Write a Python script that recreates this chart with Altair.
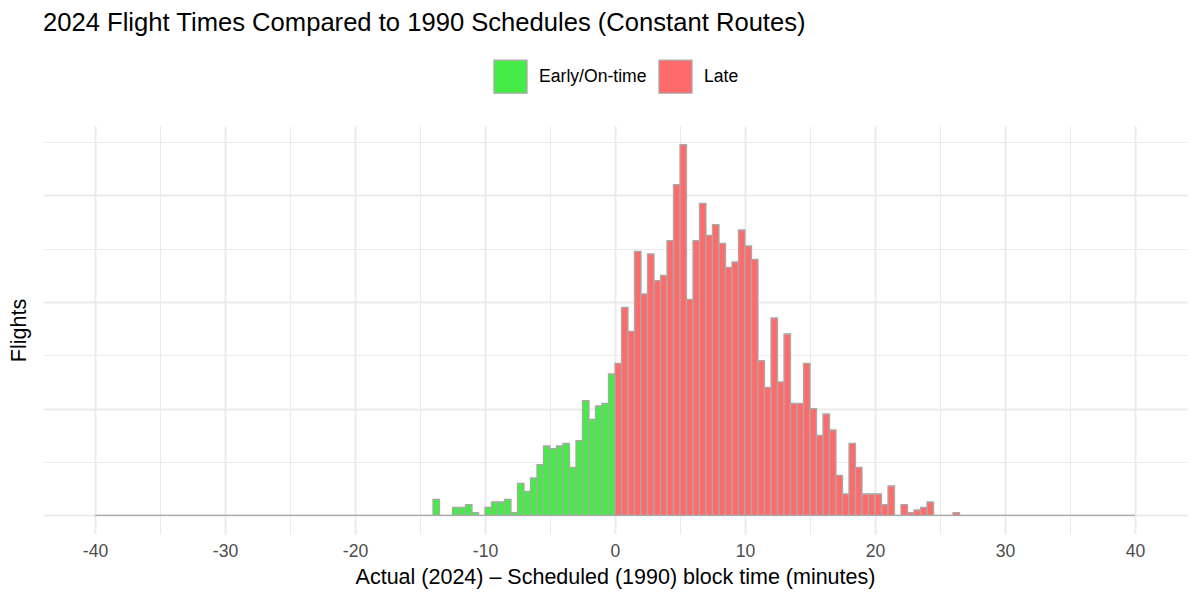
import altair as alt
import numpy as np
import pandas as pd

# Histogram bins of 0.5 minutes from -40 to 40; non-empty bins listed below
bin_width = 0.5
bin_lo, bin_hi = -40, 40
nz_starts = [-14.0, -12.5, -12.0, -11.5, -11.0, -10.0, -9.5, -9.0, -8.5, -8.0,
             -7.5, -7.0, -6.5, -6.0, -5.5, -5.0, -4.5, -4.0, -3.5, -3.0,
             -2.5, -2.0, -1.5, -1.0, -0.5, 0.0, 0.5, 1.0, 1.5, 2.0,
             2.5, 3.0, 3.5, 4.0, 4.5, 5.0, 5.5, 6.0, 6.5, 7.0,
             7.5, 8.0, 8.5, 9.0, 9.5, 10.0, 10.5, 11.0, 11.5, 12.0,
             12.5, 13.0, 13.5, 14.0, 14.5, 15.0, 15.5, 16.0, 16.5, 17.0,
             17.5, 18.0, 18.5, 19.0, 19.5, 20.0, 20.5, 21.0, 22.0, 22.5,
             23.0, 23.5, 24.0, 26.0]
nz_counts = [6, 3, 3, 4, 1, 3, 5, 5, 6, 1,
             12, 9, 14, 19, 26, 25, 26, 27, 18, 28,
             43, 36, 41, 42, 53, 57, 78, 69, 99, 83,
             98, 88, 90, 103, 124, 139, 81, 103, 117, 105,
             109, 102, 93, 95, 107, 101, 96, 58, 48, 74,
             50, 68, 42, 42, 57, 40, 30, 38, 32, 15,
             8, 27, 18, 8, 8, 8, 4, 11, 4, 1,
             2, 3, 5, 1]
categories = ["Early/On-time", "Late"]
colors = ["#45EC45", "#FF6B6B"]

x_major = [-40, -30, -20, -10, 0, 10, 20, 30, 40]
x_minor = [-35, -25, -15, -5, 5, 15, 25, 35]
y_major = [0, 40, 80, 120]
y_minor = [20, 60, 100, 140]

starts = np.arange(bin_lo, bin_hi, bin_width)
lookup = dict(zip(nz_starts, nz_counts))
df = pd.DataFrame({
    "start": starts,
    "end": starts + bin_width,
    "count": [lookup.get(round(float(s), 2), 0) for s in starts],
})
df["status"] = np.where(df["start"] < 0, categories[0], categories[1])

FONT = "Liberation Sans"
GRID = "#EBEBEB"
W, H = 1144, 408

xscale = alt.Scale(domain=[-44, 44], nice=False, zero=False)
yscale = alt.Scale(domain=[-7, 146], nice=False, zero=False)

bars = alt.Chart(df).mark_bar(stroke="#A9A9A9", strokeWidth=1.3).encode(
    x=alt.X("start:Q", scale=xscale,
            axis=alt.Axis(values=x_major, grid=True, gridColor=GRID, gridWidth=2,
                          ticks=False, domain=False, labelFontSize=17.6,
                          labelColor="#4D4D4D", labelPadding=8,
                          labelExpr="'' + datum.value",
                          title="Actual (2024) \u2013 Scheduled (1990) block time (minutes)",
                          titleFontSize=21.5, titleFontWeight="normal",
                          titleColor="#000000", titlePadding=7)),
    x2="end:Q",
    y=alt.Y("count:Q", scale=yscale,
            axis=alt.Axis(values=y_major, grid=True, gridColor=GRID, gridWidth=2,
                          ticks=False, domain=False, labels=False,
                          title="Flights", titleFontSize=21.5,
                          titleFontWeight="normal", titleColor="#000000",
                          titlePadding=13)),
    y2=alt.datum(0),
    color=alt.Color("status:N",
                    scale=alt.Scale(domain=categories, range=colors),
                    legend=alt.Legend(title=None, orient="none", legendX=450,
                                      legendY=-67, direction="horizontal",
                                      symbolType="square", symbolSize=1089,
                                      symbolStrokeColor="#A9A9A9",
                                      symbolStrokeWidth=1.3,
                                      labelFontSize=17.6, labelColor="#000000",
                                      labelOffset=11, columnPadding=9,
                                      padding=0)),
)

minor = alt.Chart(df).mark_point(opacity=0).encode(
    x=alt.X("start:Q", scale=xscale,
            axis=alt.Axis(values=x_minor, grid=True, gridColor=GRID, gridWidth=1,
                          ticks=False, domain=False, labels=False, title=None,
                          orient="top")),
    y=alt.Y("count:Q", scale=yscale,
            axis=alt.Axis(values=y_minor, grid=True, gridColor=GRID, gridWidth=1,
                          ticks=False, domain=False, labels=False, title=None,
                          orient="right")),
)

chart = alt.layer(minor, bars).resolve_axis(x="independent", y="independent").properties(
    width=W, height=H,
    autosize=alt.AutoSizeParams(type="none"),
    padding={"left": 35, "top": 118, "right": 5, "bottom": 56},
    title=alt.TitleParams(
        "2024 Flight Times Compared to 1990 Schedules (Constant Routes)",
        anchor="start", frame="group", fontSize=25.6, fontWeight="normal",
        color="#000000", font=FONT, offset=22),
).configure(font=FONT).configure_view(stroke=None)

chart.save("out.html", embed_options={"renderer": "svg", "actions": False})
